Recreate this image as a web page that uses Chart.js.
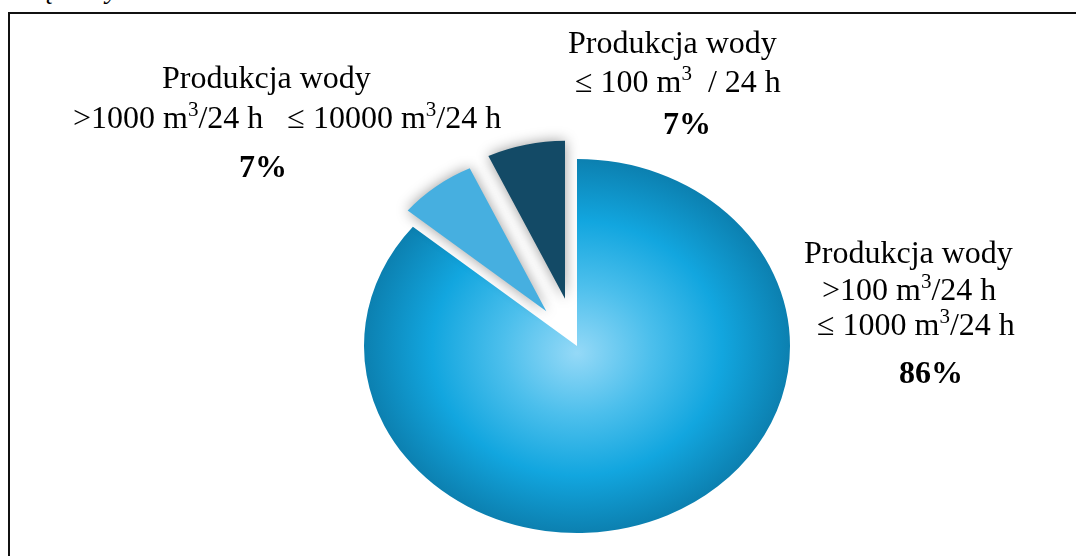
<!DOCTYPE html>
<html lang="pl">
<head>
<meta charset="utf-8">
<title>Produkcja wody</title>
<script src="https://cdn.jsdelivr.net/npm/chart.js@4.4.1/dist/chart.umd.min.js"></script>
<style>
    html, body { margin: 0; padding: 0; background: #fff; overflow: hidden; }
    #wrap { position: relative; width: 1076px; height: 556px; overflow: hidden; }
    #frame {
        position: absolute; left: 8px; top: 12px; width: 1200px; height: 700px;
        border: 2px solid #111; box-sizing: border-box;
    }
    #cut {
        position: absolute; left: 40px; top: -27px;
        font: italic 28px 'Liberation Serif', 'Times New Roman', serif; color: #000;
    }
    #chartBox { position: absolute; left: 0; top: 0; width: 1076px; height: 556px; }
</style>
</head>
<body>
<div id="wrap">
    <div id="frame"></div>
    <div id="cut">ąca wy</div>
    <div id="chartBox"><canvas id="pie"></canvas></div>
</div>
<script>
// Data
const categories = [
    'Produkcja wody >100 m3/24 h ≤ 1000 m3/24 h',
    'Produkcja wody >1000 m3/24 h ≤ 10000 m3/24 h',
    'Produkcja wody ≤ 100 m3 / 24 h'
];
const shares = [86, 7, 7];
const shareLabels = ['86%', '7%', '7%'];

// label lines: [text, superscript, text] per line
const labelLines = [
    [['Produkcja wody'], ['>100 m', '3', '/24 h'], ['≤ 1000 m', '3', '/24 h']],
    [['Produkcja wody'], ['>1000 m', '3', '/24 h   ≤ 10000 m', '3', '/24 h']],
    [['Produkcja wody'], ['≤ 100 m', '3', '  / 24 h']]
];

const sliceColors = [null, '#46afe0', '#134a66'];
const explode = [0, 50, 55];      // px, pulled out along slice middle
const radiusScale = [1, 0.845, 0.845];
const squash = 0.878;
const R = 213;

// label placement (left x of each line, baselines)
const labelPos = [
    { xs: [804, 822, 817], ys: [263, 300, 335], px: 899, py: 383 },
    { xs: [162, 73], ys: [88, 128], px: 239, py: 177 },
    { xs: [568, 575], ys: [53, 92], px: 663, py: 134 }
];

const FONT = "'Liberation Serif', 'Times New Roman', serif";

function mainGradient(c) {
    const chart = c.chart;
    const a = chart.chartArea;
    if (!a) return '#12a6df';
    const cx = (a.left + a.right) / 2;
    const cy = (a.top + a.bottom) / 2;
    const g = chart.ctx.createRadialGradient(cx, cy + 8, 0, cx, cy, R);
    g.addColorStop(0, '#95d9f7');
    g.addColorStop(0.35, '#4cbfec');
    g.addColorStop(0.68, '#12a6df');
    g.addColorStop(1, '#0c80b0');
    return g;
}

const pieLook = {
    id: 'pieLook',
    afterDatasetsUpdate(chart) {
        const meta = chart.getDatasetMeta(0);
        meta.data.forEach((arc, i) => {
            arc.outerRadius = R * radiusScale[i];
        });
    },
    beforeDatasetDraw(chart, args) {
        const ctx = chart.ctx;
        const arcs = args.meta.data;
        const cx = arcs[0].x, cy = arcs[0].y;
        ctx.save();
        ctx.translate(cx, cy);
        ctx.scale(1, squash);
        ctx.translate(-cx, -cy);
        arcs.forEach((arc, i) => {
            ctx.save();
            if (explode[i] > 0) {
                const mid = (arc.startAngle + arc.endAngle) / 2;
                ctx.translate(Math.cos(mid) * explode[i], Math.sin(mid) * explode[i]);
                ctx.shadowColor = 'rgba(0,0,0,0.4)';
                ctx.shadowBlur = 14;
            }
            arc.draw(ctx);
            ctx.restore();
        });
        ctx.restore();
        return false;
    },
    afterDraw(chart) {
        const ctx = chart.ctx;
        ctx.save();
        ctx.fillStyle = '#000';
        ctx.textBaseline = 'alphabetic';
        ctx.textAlign = 'left';
        labelLines.forEach((lines, i) => {
            const pos = labelPos[i];
            lines.forEach((parts, j) => {
                let x = pos.xs[j];
                parts.forEach((t, k) => {
                    const sup = k % 2 === 1;
                    ctx.font = sup ? '21px ' + FONT : '32px ' + FONT;
                    ctx.fillText(t, x, pos.ys[j] - (sup ? 12 : 0));
                    x += ctx.measureText(t).width;
                });
            });
            ctx.font = 'bold 32px ' + FONT;
            ctx.fillText(shareLabels[i], pos.px, pos.py);
        });
        ctx.restore();
    }
};

new Chart(document.getElementById('pie'), {
    type: 'pie',
    data: {
        labels: categories,
        datasets: [{
            data: shares,
            backgroundColor: (c) => c.dataIndex === 0 ? mainGradient(c) : sliceColors[c.dataIndex],
            borderWidth: 0
        }]
    },
    options: {
        responsive: true,
        maintainAspectRatio: false,
        animation: false,
        radius: R,
        layout: { padding: { left: 100, right: 22, top: 140, bottom: 4 } },
        plugins: {
            legend: { display: false },
            tooltip: { enabled: false }
        },
        events: []
    },
    plugins: [pieLook]
});
</script>
</body>
</html>
